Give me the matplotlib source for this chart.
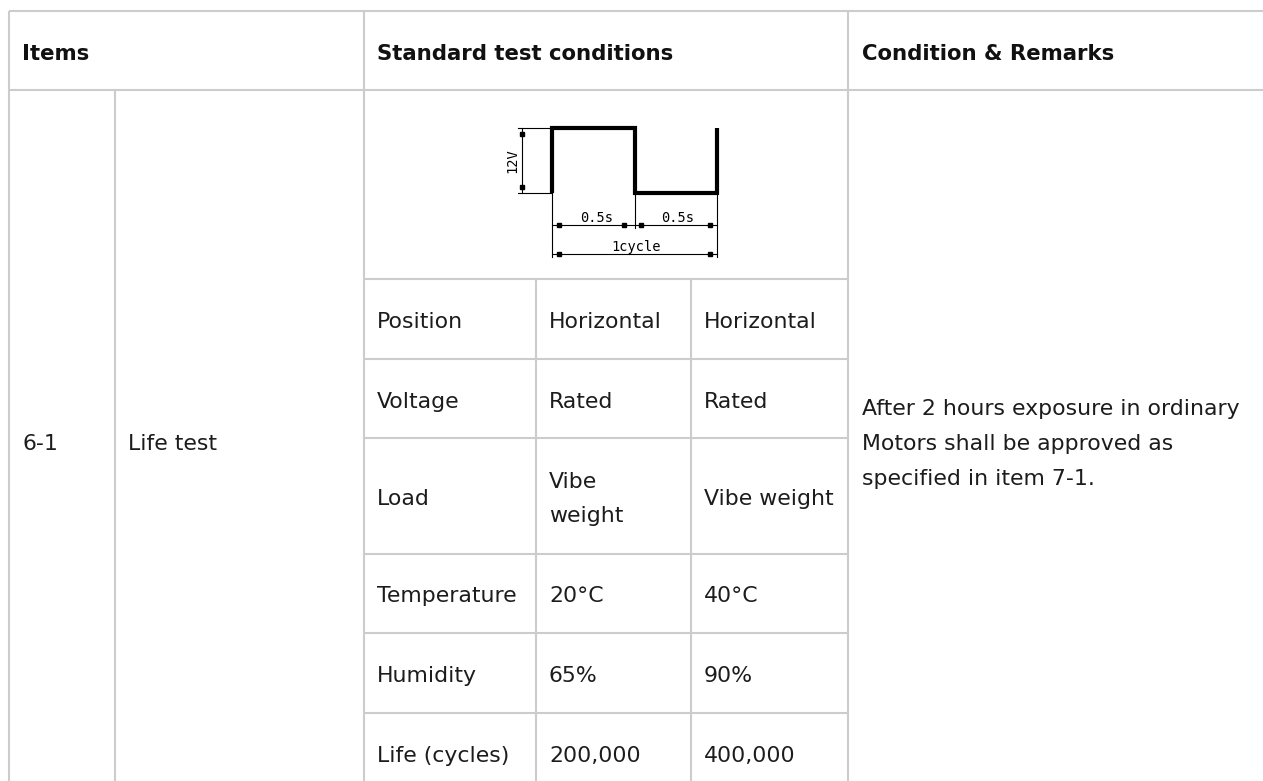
import matplotlib
matplotlib.use("Agg")
import matplotlib.pyplot as plt

# ---------------- data ----------------
header = ["Items", "Standard test conditions", "Condition & Remarks"]
item_no = "6-1"
item_name = "Life test"
params = ["Position", "Voltage", "Load", "Temperature", "Humidity", "Life (cycles)"]
cond_a = ["Horizontal", "Rated", "Vibe\nweight", "20°C", "65%", "200,000"]
cond_b = ["Horizontal", "Rated", "Vibe weight", "40°C", "90%", "400,000"]
remarks = ["After 2 hours exposure in ordinary",
           "Motors shall be approved as",
           "specified in item 7-1."]

# waveform (time in s, voltage in V)
wave_t = [0, 0, 0.5, 0.5, 1.0, 1.0]
wave_v = [0, 12, 12, 0, 0, 12]
volt_label = "12V"
half_label = "0.5s"
cycle_label = "1cycle"

# ---------------- layout (pixels) ----------------
W, H = 1263, 781
fig = plt.figure(figsize=(W / 100, H / 100), dpi=100)
fig.patch.set_facecolor("white")
ax = fig.add_axes([0, 0, 1, 1])
ax.set_xlim(0, W)
ax.set_ylim(H, 0)
ax.axis("off")

GRID = "#cccccc"
LW = 1.5
TXT = "#1c1c1c"
FS = 15.8
FS_B = 15.3
FONT = "DejaVu Sans"

x_left, x_sub, x_std, x_a, x_b, x_rem = 9, 115, 364, 536, 691, 848
y_top, y_head = 11, 90
row_edges = [279, 359, 438, 554, 633, 713, 792]


def hline(y, x0, x1):
    ax.plot([x0, x1], [y, y], color=GRID, lw=LW, solid_capstyle="butt")


def vline(x, y0, y1):
    ax.plot([x, x], [y0, y1], color=GRID, lw=LW, solid_capstyle="butt")


hline(y_top, x_left, W)
hline(y_head, x_left, W)
for y in row_edges[:-1]:
    hline(y, x_std, x_rem)
vline(x_left, y_top, H)
vline(x_sub, y_head, H)
vline(x_std, y_top, H)
vline(x_rem, y_top, H)
vline(x_a, row_edges[0], H)
vline(x_b, row_edges[0], H)

pad = 13
BASE = 9  # baseline offset below cell centre


def put(x, yc, s, bold=False):
    ax.text(x, yc + BASE, s, fontsize=FS_B if bold else FS,
            color="#111111" if bold else TXT,
            fontweight="bold" if bold else "normal", family=FONT,
            ha="left", va="baseline")


# header
hc = (y_top + y_head) / 2
put(x_left + pad, hc, header[0], bold=True)
put(x_std + pad, hc, header[1], bold=True)
put(x_rem + pad + 1, hc, header[2], bold=True)

# item cells
main_c = (y_head + row_edges[-1]) / 2
put(x_left + pad, main_c, item_no)
put(x_sub + pad, main_c, item_name)

LINE = 35
for i, txt in enumerate(remarks):
    put(x_rem + pad + 1, main_c + (i - 1) * LINE, txt)

# sub table
for i in range(len(params)):
    c = (row_edges[i] + row_edges[i + 1]) / 2
    for x, s in ((x_std, params[i]), (x_a, cond_a[i]), (x_b, cond_b[i])):
        lines = s.split("\n")
        n = len(lines)
        for j, ln in enumerate(lines):
            put(x + pad, c + (j - (n - 1) / 2) * 33, ln)

# ---------------- waveform inset ----------------
t0_px, px_per_s = 552, 165.0
v0_px, px_per_v = 193, 65.0 / 12
ix0, ix1, iy0, iy1 = 490, 750, 110, 272
iax = fig.add_axes([ix0 / W, 1 - iy1 / H, (ix1 - ix0) / W, (iy1 - iy0) / H])
iax.set_xlim((ix0 - t0_px) / px_per_s, (ix1 - t0_px) / px_per_s)
iax.set_ylim((v0_px - iy1) / px_per_v, (v0_px - iy0) / px_per_v)
iax.axis("off")

iax.plot(wave_t, wave_v, color="black", lw=3.0, solid_joinstyle="miter",
         solid_capstyle="butt")

thin = dict(color="black", lw=0.8)
tpx = 1 / px_per_s
vpx = 1 / px_per_v
vmax = max(wave_v)
t_end = max(wave_t)
t_half = wave_t[2]
SMALL = dict(family="DejaVu Sans Mono", fontsize=9.8, color="black")

# 12V dimension
dim_t = -30 * tpx
iax.plot([-34 * tpx, 0], [vmax, vmax], **thin)
iax.plot([-34 * tpx, 0], [0, 0], **thin)
iax.plot([dim_t, dim_t], [0, vmax], **thin)
iax.plot([dim_t, dim_t], [vmax - 6 * vpx, 6 * vpx], "s", color="black", ms=2.6)
iax.text(dim_t - 3 * tpx, vmax / 2, volt_label, rotation=90, ha="right",
         va="center", **SMALL)

# extension lines
y_half = -32 * vpx
y_cyc = -61 * vpx
iax.plot([0, 0], [0, -64 * vpx], **thin)
iax.plot([t_half, t_half], [0, -35 * vpx], **thin)
iax.plot([t_end, t_end], [0, -64 * vpx], **thin)

# 0.5s dimensions
iax.plot([0, t_end], [y_half, y_half], **thin)
off = 7 * tpx
iax.plot([off, t_half - off - 4 * tpx, t_half + off - 1 * tpx, t_end - off],
         [y_half] * 4, "s", color="black", ms=2.6)
iax.text(t_half / 2 + 3 * tpx, y_half + 2.5 * vpx, half_label, ha="center",
         va="baseline", **SMALL)
iax.text((t_half + t_end) / 2 + 2 * tpx, y_half + 2.5 * vpx, half_label,
         ha="center", va="baseline", **SMALL)

# 1cycle dimension
iax.plot([0, t_end], [y_cyc, y_cyc], **thin)
iax.plot([off, t_end - off], [y_cyc, y_cyc], "s", color="black", ms=2.6)
iax.text(t_end / 2 + 2 * tpx, y_cyc + 3 * vpx, cycle_label, ha="center",
         va="baseline", **SMALL)

fig.savefig("out.png", dpi=100, facecolor="white")
